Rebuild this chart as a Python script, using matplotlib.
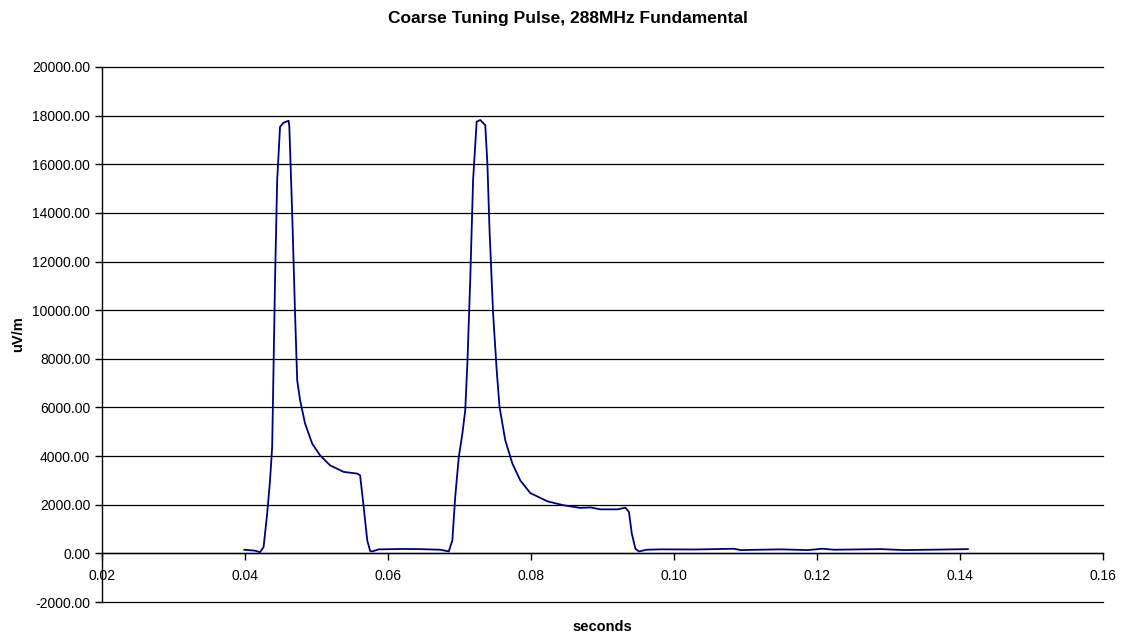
import numpy as np
import matplotlib.pyplot as plt
from matplotlib.ticker import FormatStrFormatter, MultipleLocator

plt.rcParams['font.family'] = ['Liberation Sans', 'DejaVu Sans']

# tiempos (s) y campo (uV/m)
seconds = [0.0399, 0.0414, 0.0421, 0.0426, 0.0431, 0.0435, 0.0438, 0.0440,
           0.0442, 0.0445, 0.0449, 0.0454, 0.0461, 0.0462, 0.0466, 0.0470,
           0.0473, 0.0477, 0.0484, 0.0494, 0.0505, 0.0519, 0.0538, 0.0557,
           0.0561, 0.0566, 0.0571, 0.0575, 0.0578, 0.0587, 0.0620, 0.0645,
           0.0673, 0.0685, 0.0690, 0.0694, 0.0699, 0.0704, 0.0708, 0.0711,
           0.0715, 0.0719, 0.0724, 0.0729, 0.0736, 0.0739, 0.0742, 0.0747,
           0.0752, 0.0756, 0.0764, 0.0774, 0.0785, 0.0799, 0.0823, 0.0846,
           0.0869, 0.0883, 0.0897, 0.0921, 0.0932, 0.0937, 0.0941, 0.0946,
           0.0951, 0.0962, 0.0981, 0.1030, 0.1084, 0.1093, 0.1149, 0.1187,
           0.1207, 0.1224, 0.1289, 0.1322, 0.1359, 0.1411]
uv_m = [150, 110, 50, 260, 1630, 3000, 4370, 7800,
        11230, 15350, 17540, 17710, 17790, 17540, 13980, 9860,
        7120, 6300, 5340, 4510, 4030, 3620, 3350, 3280,
        3210, 1900, 530, 100, 80, 165, 180, 175,
        150, 80, 535, 2320, 3960, 4920, 5880, 7800,
        11230, 15350, 17750, 17820, 17610, 16040, 13290, 9860,
        7530, 6020, 4650, 3690, 3000, 2480, 2140, 1975,
        1870, 1890, 1810, 1810, 1880, 1700, 810, 190,
        80, 150, 165, 160, 190, 135, 165, 135,
        190, 150, 175, 135, 150, 175]

fig = plt.figure(figsize=(11.21, 6.37), dpi=100)
ax = fig.add_axes([102 / 1121, 35 / 637, 1001 / 1121, 535 / 637])

ax.plot(seconds, uv_m, color='#000080', linewidth=1.3,
        solid_joinstyle='round')

ax.set_xlim(0.02, 0.16)
ax.set_ylim(-2000, 20000)
ax.xaxis.set_major_locator(MultipleLocator(0.02))
ax.yaxis.set_major_locator(MultipleLocator(2000))
ax.xaxis.set_major_formatter(FormatStrFormatter('%.2f'))
ax.yaxis.set_major_formatter(FormatStrFormatter('%.2f'))

# eje x cruzando en cero, estilo Excel
ax.spines['bottom'].set_position(('data', 0))
ax.spines['top'].set_visible(False)
ax.spines['right'].set_visible(False)
for s in ('left', 'bottom'):
    ax.spines[s].set_linewidth(1.0)
    ax.spines[s].set_color('black')

ax.yaxis.grid(True, color='black', linewidth=0.9)
for gl in ax.get_ygridlines():
    gl.set_clip_on(False)
ax.set_axisbelow(True)
ax.tick_params(axis='both', direction='out', length=5, width=1,
               labelsize=10, colors='black')
ax.tick_params(axis='x', pad=6)

fig.text(568 / 1121, 1 - 18 / 637, 'Coarse Tuning Pulse, 288MHz Fundamental',
         ha='center', va='center', fontsize=12.5, fontweight='bold')
fig.text(602 / 1121, 1 - 627 / 637, 'seconds', ha='center', va='center',
         fontsize=10.5, fontweight='bold')
fig.text(18 / 1121, 1 - 334 / 637, 'uV/m', ha='center', va='center',
         rotation=90, fontsize=10.5, fontweight='bold')

fig.savefig('out.png', dpi=100)
